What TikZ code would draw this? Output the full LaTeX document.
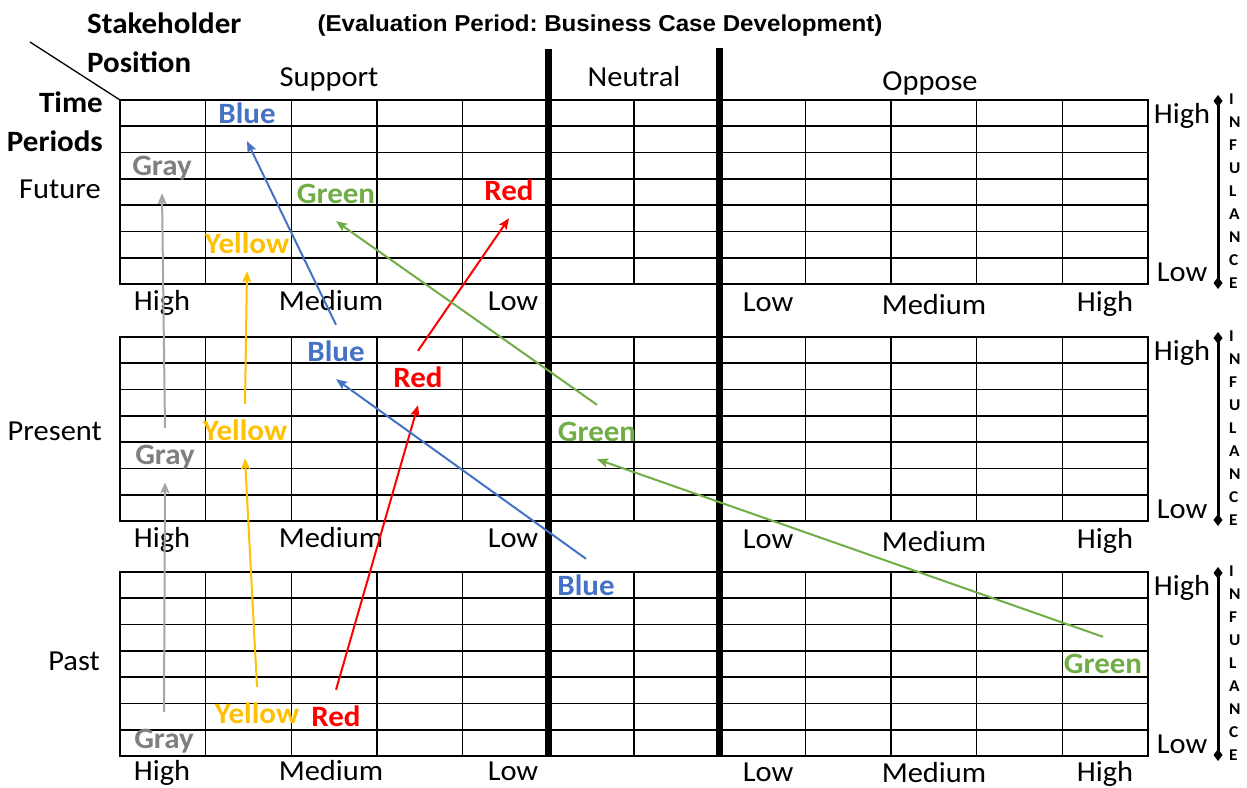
\documentclass[tikz,border=0pt]{standalone}
\usepackage{fontspec}
\setmainfont{Carlito}[FakeStretch=1.05]
\newfontfamily\headfont{Liberation Sans}[FakeStretch=1.05]
\usetikzlibrary{arrows.meta}
\frenchspacing
\definecolor{sblue}{HTML}{4472C4}
\definecolor{sgreen}{HTML}{70AD47}
\definecolor{sred}{HTML}{FF0000}
\definecolor{syellow}{HTML}{FFC000}
\definecolor{sgraytext}{HTML}{7F7F7F}
\definecolor{sgrayline}{HTML}{A6A6A6}
\tikzset{
  txt/.style={inner sep=0pt, font=\fontsize{29}{32}\selectfont, text height=23pt, text depth=4.3pt},
  btxt/.style={txt, font=\bfseries\fontsize{29.5}{32}\selectfont},
  holder/.style={btxt, minimum height=54pt, text=#1},
  move/.style={line width=2pt, draw=#1, -{Stealth[length=11pt,width=9pt,inset=2pt]}},
  gridline/.style={line width=1.6pt, line cap=rect},
  divider/.style={line width=7pt},
  influence/.style={line width=3pt, {Diamond[length=12pt,width=9pt]}-{Diamond[length=12pt,width=9pt]}},
  letter/.style={inner sep=0pt, anchor=base west, font=\bfseries\fontsize{16.5}{16.5}\selectfont},
}
\begin{document}
\begin{tikzpicture}[x=1pt,y=-1pt]
\useasboundingbox (0,0) rectangle (1247,787);

% three matrices: future, present, past
\foreach \t/\p/\d in {100/f/0,337/r/0,572/p/2}{
  \foreach \k in {0,...,7}
    \draw[gridline] (120,{\t+\k*184/7}) -- (1148,{\t+\k*184/7});
  \foreach \j in {0,1,2,3,4,6,8,9,10,11,12}
    \draw[gridline] ({120+\j*1028/12},\t) -- ({120+\j*1028/12},\t+184);
  % position scale under each matrix
  \node[txt] (hiL\p)  at (162,\t+201.5-\d) {High};
  \node[txt] (meL\p)  at (331,\t+201-\d) {Medium};
  \node[txt] (loL\p)  at (513,\t+201-\d) {Low};
  \node[txt] (loR\p)  at (768,\t+202-\d) {Low};
  \node[txt] (meR\p)  at (934,{\t+205-2*\d}) {Medium};
  \node[txt] (hiR\p)  at (1105,\t+202-\d) {High};
  % influence scale
  \node[txt] (infH\p) at (1182,\t+14) {High};
  \node[txt] (infL\p) at (1182,\t+172) {Low};
  \coordinate (infTop\p) at (1218,\t-5);
  \coordinate (infBot\p) at (1218,\t+189);
  \draw[influence] (infTop\p) -- (infBot\p);
  \foreach \l [count=\i from 0] in {I,N,F,U,L,A,N,C,E}
    \node[letter] (let\p\i) at (1229,{\t+\i*23+4}) {\l};
}

% dividers between support, neutral and oppose
\coordinate (divAtop) at ({120+5*1028/12},49);
\coordinate (divAbot) at ({120+5*1028/12},756);
\coordinate (divBtop) at ({120+7*1028/12},48);
\coordinate (divBbot) at ({120+7*1028/12},756);
\draw[divider] (divAtop) -- (divAbot);
\draw[divider] (divBtop) -- (divBbot);

% header corner
\coordinate (cornerEnd) at (30,42);
\coordinate (cornerGrid) at (120,100);
\draw[line width=1.3pt] (cornerEnd) -- (cornerGrid);
\node[btxt, anchor=west] (stake) at (87,24) {Stakeholder};
\node[btxt, anchor=west] (posn)  at (87,63) {Position};
\node[btxt, anchor=east] (time)  at (103,103.5) {Time};
\node[btxt, anchor=east] (per)   at (103,142) {Periods};
\node[inner sep=0pt, anchor=base, font=\headfont\bfseries\fontsize{23}{26}\selectfont] (title) at (600,31) {(Evaluation Period: Business Case Development)};

\node[txt] (sup) at (329,77.5) {Support};
\node[txt] (neu) at (634,77) {Neutral};
\node[txt] (opp) at (930,81) {Oppose};

\node[txt, anchor=east] (fut)  at (101,189.5) {Future};
\node[txt, anchor=east] (pres) at (102,431) {Present};
\node[txt, anchor=east] (past) at (100,661) {Past};

% stakeholder markers, future
\node[holder=sblue]     (blueF)   at (247,114) {Blue};
\node[holder=sgraytext] (grayF)   at (162,166) {Gray};
\node[holder=sgreen]    (greenF)  at (336,194) {Green};
\node[holder=sred]      (redF)    at (509,191) {Red};
\node[holder=syellow]   (yellowF) at (247,244) {Yellow};
% present
\node[holder=sblue]     (blueR)   at (336,352) {Blue};
\node[holder=sred]      (redR)    at (418,378) {Red};
\node[holder=syellow]   (yellowR) at (245,431) {Yellow};
\node[holder=sgreen]    (greenR)  at (597,432) {Green};
\node[holder=sgraytext] (grayR)   at (165,455) {Gray};
% past
\node[holder=sblue]     (blueP)   at (586,586) {Blue};
\node[holder=sgreen]    (greenP)  at (1103,664) {Green};
\node[holder=syellow]   (yellowP) at (257,714) {Yellow};
\node[holder=sred]      (redP)    at (336,717) {Red};
\node[holder=sgraytext] (grayP)   at (164,739) {Gray};

% movement over time
\draw[move=sgrayline] (grayP.north) -- (grayR.south);
\draw[move=sgrayline] (grayR.north) -- (grayF.south);
\draw[move=syellow] (yellowP.north) -- (yellowR.south);
\draw[move=syellow] (yellowR.north) -- (yellowF.south);
\draw[move=sred] (redP.north) -- (redR.south);
\draw[move=sred] (redR.north) -- (redF.south);
\draw[move=sblue] (blueP.north) -- (blueR.south);
\draw[move=sblue] (blueR.north) -- (blueF.south);
\draw[move=sgreen] (greenP.north) -- (greenR.south);
\draw[move=sgreen] (greenR.north) -- (greenF.south);
\end{tikzpicture}
\end{document}
